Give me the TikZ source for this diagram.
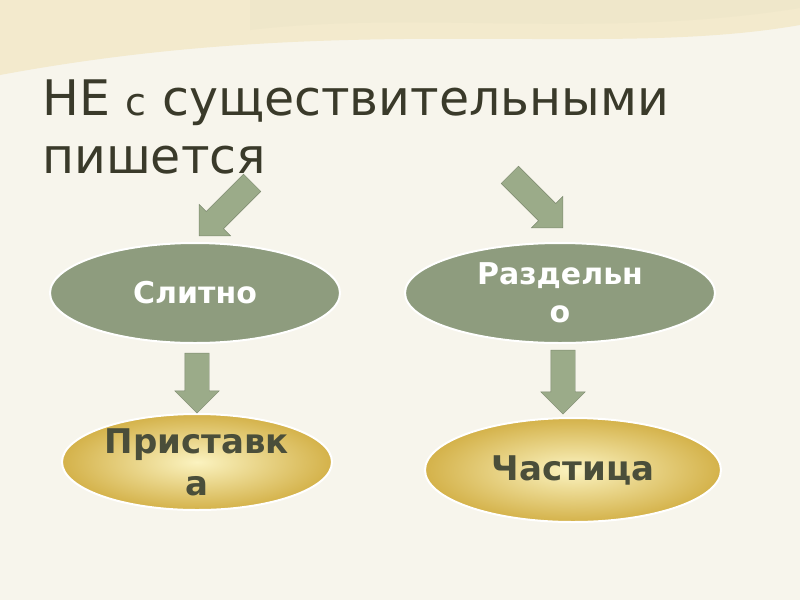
\documentclass[tikz,border=0pt]{standalone}
\usepackage{fontspec}
\setmainfont{DejaVu Sans}
\usetikzlibrary{shapes.arrows,shapes.geometric}
\definecolor{bg}{HTML}{F7F5EC}
\definecolor{wa}{HTML}{F0E2B8}
\definecolor{wb}{HTML}{E8D8A8}
\definecolor{grn}{HTML}{8E9C7E}
\definecolor{arr}{HTML}{9BAB89}
\definecolor{ttl}{HTML}{3A3A2A}
\definecolor{gold1}{HTML}{FBF3C0}
\definecolor{gold2}{HTML}{D4B24A}
\definecolor{dtxt}{HTML}{4A4E3A}
\tikzset{
 greenell/.style={draw=white,line width=2pt,fill=grn,ellipse,text=white,font=\bfseries\fontsize{30}{38}\selectfont,align=center,inner sep=0pt},
 goldell/.style={draw=white,line width=2pt,inner color=gold1,outer color=gold2,text=dtxt,font=\bfseries\fontsize{34}{42}\selectfont,align=center,inner sep=0pt},
 barrow/.style={single arrow,fill=arr,draw=arr!80!black,line width=0.4pt,inner xsep=0pt,inner ysep=12pt,single arrow tip angle=90,single arrow head extend=10pt},
}
\begin{document}
\begin{tikzpicture}[x=1pt,y=-1pt]
\fill[bg] (0,0) rectangle (800,600);
\useasboundingbox (0,0) rectangle (800,600);
\fill[wa!60!bg] (0,0) -- (800,0) -- (800,25) .. controls (600,60) and (350,10) .. (0,75) -- cycle;
\fill[wb!50!bg] (250,0) -- (800,0) -- (800,8) .. controls (600,40) and (420,10) .. (250,30) -- cycle;
\node[anchor=west,text=ttl,font=\fontsize{49}{56}\selectfont,inner sep=0pt] (t1) at (42,103) {НЕ {\fontsize{38}{44}\selectfont с} существительными};
\node[anchor=west,text=ttl,font=\fontsize{49}{56}\selectfont,inner sep=0pt] (t2) at (42,160) {пишется};
\node[greenell,minimum width=290pt,minimum height=100pt] (s) at (195,293) {Слитно};
\node[greenell,minimum width=310pt,minimum height=100pt] (r) at (560,293) {Раздельн\\о};
\node[goldell,ellipse,minimum width=270pt,minimum height=96pt] (p) at (197,462) {Приставк\\а};
\node[goldell,ellipse,minimum width=296pt,minimum height=104pt] (c) at (573,470) {Частица};
\node[barrow,rotate=-135,minimum height=75pt] (a1) at (230,205) {};
\node[barrow,rotate=-45,minimum height=75pt] (a2) at (532,197) {};
\node[barrow,rotate=-90,minimum height=60pt] (a3) at (197,377) {};
\node[barrow,rotate=-90,minimum height=64pt] (a4) at (563,376) {};
\end{tikzpicture}
\end{document}
